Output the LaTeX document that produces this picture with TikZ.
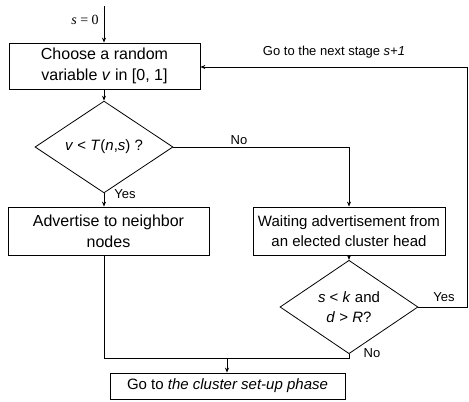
\documentclass[tikz,border=0pt]{standalone}
\usepackage{fontspec}
\setmainfont{Liberation Sans}
\newfontfamily\seriffont{Liberation Serif}
\usetikzlibrary{shapes.geometric,arrows.meta}
\begin{document}
\begin{tikzpicture}[x=1pt,y=-1pt,line width=0.8pt,
  box/.style={draw,rectangle,inner sep=0pt,align=center,font=\fontsize{15}{20.5}\selectfont},
  bigbox/.style={box,font=\fontsize{16}{21}\selectfont},
  dia/.style={draw,diamond,inner sep=0pt,align=center,minimum width=138pt,minimum height=78pt,font=\fontsize{15}{20.5}\selectfont},
  lbl/.style={inner sep=0pt,font=\fontsize{13}{15}\selectfont},
  arr/.style={-{Stealth[length=5pt,width=4pt]}}]
\useasboundingbox (0,0) rectangle (469,402);
\coordinate (start) at (104,6);
\node[bigbox,minimum width=191pt,minimum height=46pt] (b1) at (104.5,66) {Choose a random\\variable \textit{v} in [0, 1]};
\node[dia] (d1) at (104,147) {\textit{v} < \textit{T}(\textit{n},\textit{s}) ?};
\node[bigbox,minimum width=201pt,minimum height=48pt] (adv) at (108.5,231) {Advertise to neighbor\\nodes};
\node[box,minimum width=192pt,minimum height=48pt] (wait) at (349,231) {Waiting advertisement from\\an elected cluster head};
\node[dia] (d2) at (349,307) {\textit{s} < \textit{k} and\\\textit{d} > \textit{R}?};
\node[box,minimum width=235pt,minimum height=26pt] (fin) at (227.5,386) {Go to \textit{the cluster set-up phase}};
\coordinate (rt) at (467,67);
\coordinate (ry) at (467,307);
\coordinate (join) at (227,358);
% connectors
\draw[arr] (start) -- (start |- b1.north);
\draw[arr] (d1.north |- b1.south) -- (d1.north);
\draw[arr] (d1.south) -- (d1.south |- adv.north);
\draw[arr] (d1.east) -| (wait.north);
\draw[arr] (wait.south) -- (d2.north);
\draw[arr] (d2.east) -- (ry) -- (rt) -- (b1.east |- rt);
\draw (d1.south |- adv.south) |- (d2.south |- join) -- (d2.south);
\draw[arr] (join) -- (join |- fin.north);
% labels
\node[lbl] (l0) at (85,20) {\fontsize{14}{16}\selectfont\seriffont\textit{s} = 0};
\node[lbl] (lnext) at (334,52) {Go to the next stage \textit{s+1}};
\node[lbl] (lno1) at (239,140) {No};
\node[lbl,anchor=west] (lyes1) at (114,194) {Yes};
\node[lbl] (lyes2) at (444,297) {Yes};
\node[lbl] (lno2) at (372,353) {No};
\end{tikzpicture}
\end{document}
